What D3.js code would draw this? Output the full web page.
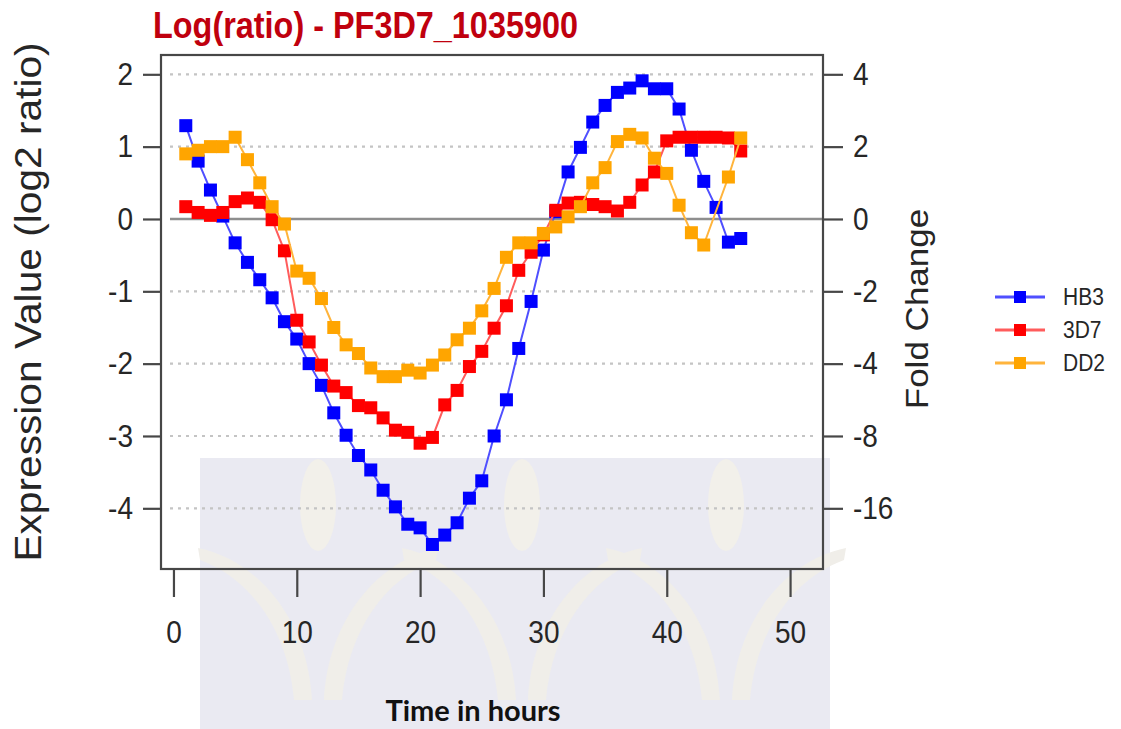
<!DOCTYPE html>
<html>
<head>
<meta charset="utf-8">
<script src="https://cdn.jsdelivr.net/npm/d3@7"></script>
<style>
  html, body { margin: 0; padding: 0; background: #fff; }
  svg { display: block; }
  text { font-family: "Liberation Sans", Arial, Helvetica, sans-serif; fill: #262626; }
</style>
</head>
<body>
<svg id="chart" width="1121" height="729"></svg>
<script>
// ---- data ----
var hours = [1,2,3,4,5,6,7,8,9,10,11,12,13,14,15,16,17,18,19,20,21,22,23,24,25,26,27,28,29,30,31,32,33,34,35,36,37,38,39,40,41,42,43,44,45,46];

var hb3 = [1.29,0.80,0.40,0.04,-0.33,-0.60,-0.84,-1.09,-1.42,-1.66,-2.00,-2.30,-2.68,-2.99,-3.27,-3.47,-3.75,-3.98,-4.22,-4.27,-4.50,-4.37,-4.20,-3.86,-3.62,-3.00,-2.50,-1.79,-1.14,-0.43,0.10,0.65,0.99,1.34,1.57,1.75,1.81,1.91,1.80,1.80,1.52,0.95,0.52,0.16,-0.32,-0.27];

var s3d7 = [0.17,0.09,0.05,0.09,0.24,0.29,0.23,-0.01,-0.44,-1.40,-1.70,-2.02,-2.31,-2.40,-2.58,-2.61,-2.75,-2.92,-2.95,-3.10,-3.02,-2.57,-2.37,-2.04,-1.83,-1.51,-1.20,-0.71,-0.46,-0.22,0.12,0.22,0.23,0.20,0.17,0.11,0.23,0.47,0.65,1.08,1.13,1.13,1.13,1.13,1.12,0.94];

// hour 44 has no DD2 point (the line jumps straight from 43 to 45)
var dd2 = [0.90,0.95,1.00,1.00,1.13,0.82,0.50,0.17,-0.07,-0.72,-0.82,-1.10,-1.50,-1.74,-1.86,-2.06,-2.18,-2.18,-2.09,-2.13,-2.02,-1.88,-1.67,-1.51,-1.27,-0.96,-0.53,-0.33,-0.33,-0.20,-0.11,0.03,0.17,0.50,0.71,1.07,1.17,1.12,0.84,0.63,0.19,-0.19,-0.36,null,0.58,1.12];

var seriesNames = ["HB3", "3D7", "DD2"];
var markColors  = ["#0000ff", "#ff0000", "#ffa500"];
var lineColors  = ["#4f4fff", "#ff5c5c", "#ffb43c"];

var xTicks = [0, 10, 20, 30, 40, 50];
var yTicks = [2, 1, 0, -1, -2, -3, -4];
var foldLabels = ["4", "2", "0", "-2", "-4", "-8", "-16"];

var titleText = "Log(ratio) - PF3D7_1035900";
var yLabelText = "Expression Value (log2 ratio)";
var y2LabelText = "Fold Change";
var xLabelText = "Time in hours";

// ---- layout ----
var box = { left: 161, right: 823, top: 55, bottom: 569 };
var sy = 1.13;   // picture is a little stretched vertically

var svg = d3.select("#chart");

var x = d3.scaleLinear().domain([-1.01, 52.67]).range([box.left, box.right]);
var y = d3.scaleLinear().domain([-4.839, 2.267]).range([box.bottom, box.top]);

// faint watermark behind everything
var wm = svg.append("g").attr("class", "watermark");
wm.append("rect")
  .attr("x", 200).attr("y", 458).attr("width", 630).attr("height", 271)
  .attr("fill", "#eaeaf2");
[318, 522, 726].forEach(function (cx) {
  wm.append("ellipse")
    .attr("cx", cx).attr("cy", 505).attr("rx", 18).attr("ry", 46)
    .attr("fill", "#f2f0ea");
  wm.append("path")
    .attr("d", "M" + (cx - 6) + ",700 C" + (cx - 10) + ",620 " + (cx - 60) + ",560 " + (cx - 120) + ",548" +
               " L" + (cx - 118) + ",560 C" + (cx - 68) + ",578 " + (cx - 30) + ",630 " + (cx - 24) + ",700 Z")
    .attr("fill", "#f0eee9");
  wm.append("path")
    .attr("d", "M" + (cx + 6) + ",700 C" + (cx + 10) + ",620 " + (cx + 60) + ",560 " + (cx + 120) + ",548" +
               " L" + (cx + 118) + ",560 C" + (cx + 68) + ",578 " + (cx + 30) + ",630 " + (cx + 24) + ",700 Z")
    .attr("fill", "#f0eee9");
});

// grid
var grid = svg.append("g").attr("class", "grid");
grid.selectAll("line.dot")
  .data(yTicks.filter(function (d) { return d !== 0; }))
  .enter().append("line")
  .attr("class", "dot")
  .attr("x1", 170).attr("x2", 815)
  .attr("y1", function (d) { return y(d); })
  .attr("y2", function (d) { return y(d); })
  .attr("stroke", "#c4c4c4")
  .attr("stroke-width", 2.2)
  .attr("stroke-dasharray", "3 5");
grid.append("line")
  .attr("x1", 170).attr("x2", box.right)
  .attr("y1", y(0)).attr("y2", y(0))
  .attr("stroke", "#8e8e8e")
  .attr("stroke-width", 2.6);

// series
var allSeries = [hb3, s3d7, dd2];
var line = d3.line()
  .x(function (d) { return x(d.h); })
  .y(function (d) { return y(d.v); });

var g_series = svg.append("g").attr("class", "series");
allSeries.forEach(function (vals, i) {
  var pts = hours.map(function (h, k) { return { h: h, v: vals[k] }; })
                 .filter(function (d) { return d.v !== null; });
  var g = g_series.append("g");
  g.append("path")
    .datum(pts)
    .attr("d", line)
    .attr("fill", "none")
    .attr("stroke", lineColors[i])
    .attr("stroke-width", 2);
  g.selectAll("rect")
    .data(pts)
    .enter().append("rect")
    .attr("x", function (d) { return x(d.h) - 6.5; })
    .attr("y", function (d) { return y(d.v) - 6.5; })
    .attr("width", 13).attr("height", 13)
    .attr("fill", markColors[i]);
});

// box
svg.append("rect")
  .attr("x", box.left).attr("y", box.top)
  .attr("width", box.right - box.left).attr("height", box.bottom - box.top)
  .attr("fill", "none")
  .attr("stroke", "#474747")
  .attr("stroke-width", 2.2);

// axes
function styleAxis(g) {
  g.select(".domain").remove();
  g.selectAll(".tick line").attr("stroke", "#474747").attr("stroke-width", 2.2);
  g.selectAll(".tick text")
    .style("font-size", "28px")
    .attr("fill", "#262626");
}

var gLeft = svg.append("g")
  .attr("transform", "translate(" + box.left + ",0)")
  .call(d3.axisLeft(y).tickValues(yTicks).tickSize(18).tickPadding(10)
        .tickFormat(function (d) { return String(d); }));
styleAxis(gLeft);
gLeft.selectAll(".tick text").attr("transform", "scale(1," + sy + ")");

var gRight = svg.append("g")
  .attr("transform", "translate(" + box.right + ",0)")
  .call(d3.axisRight(y).tickValues(yTicks).tickSize(20).tickPadding(10)
        .tickFormat(function (d) { return foldLabels[yTicks.indexOf(d)]; }));
styleAxis(gRight);
gRight.selectAll(".tick text").attr("transform", "scale(1," + sy + ")");

var gBottom = svg.append("g")
  .attr("transform", "translate(0," + box.bottom + ")")
  .call(d3.axisBottom(x).tickValues(xTicks).tickSize(28)
        .tickFormat(function (d) { return String(d); }));
styleAxis(gBottom);
gBottom.selectAll(".tick text")
  .attr("y", 0).attr("dy", 0)
  .attr("transform", "translate(0,74) scale(1," + sy + ")");

// title and axis labels
svg.append("text")
  .attr("transform", "translate(153,38) scale(1," + sy + ")")
  .attr("textLength", 425)
  .attr("lengthAdjust", "spacingAndGlyphs")
  .style("font-size", "32px")
  .style("font-weight", "bold")
  .style("fill", "#c0000e")
  .text(titleText);

svg.append("text")
  .attr("transform", "translate(41,302) scale(1," + sy + ") rotate(-90)")
  .attr("text-anchor", "middle")
  .style("font-size", "36px")
  .text(yLabelText);

svg.append("text")
  .attr("transform", "translate(928,309) scale(1," + sy + ") rotate(-90)")
  .attr("text-anchor", "middle")
  .style("font-size", "31px")
  .text(y2LabelText);

svg.append("text")
  .attr("x", 473).attr("y", 721)
  .attr("text-anchor", "middle")
  .style("font-family", "Lato, 'Open Sans', sans-serif")
  .style("font-weight", "bold")
  .style("font-size", "29px")
  .style("fill", "#111")
  .text(xLabelText);

// legend
var legend = svg.append("g").attr("class", "legend");
var legendY = [297, 330, 363];
seriesNames.forEach(function (name, i) {
  var ly = legendY[i];
  legend.append("line")
    .attr("x1", 995).attr("x2", 1045)
    .attr("y1", ly).attr("y2", ly)
    .attr("stroke", lineColors[i])
    .attr("stroke-width", 3);
  legend.append("rect")
    .attr("x", 1014).attr("y", ly - 6)
    .attr("width", 12).attr("height", 12)
    .attr("fill", markColors[i]);
  legend.append("text")
    .attr("transform", "translate(1063," + (ly + 8) + ") scale(1," + sy + ")")
    .style("font-size", "21px")
    .text(name);
});
</script>
</body>
</html>
